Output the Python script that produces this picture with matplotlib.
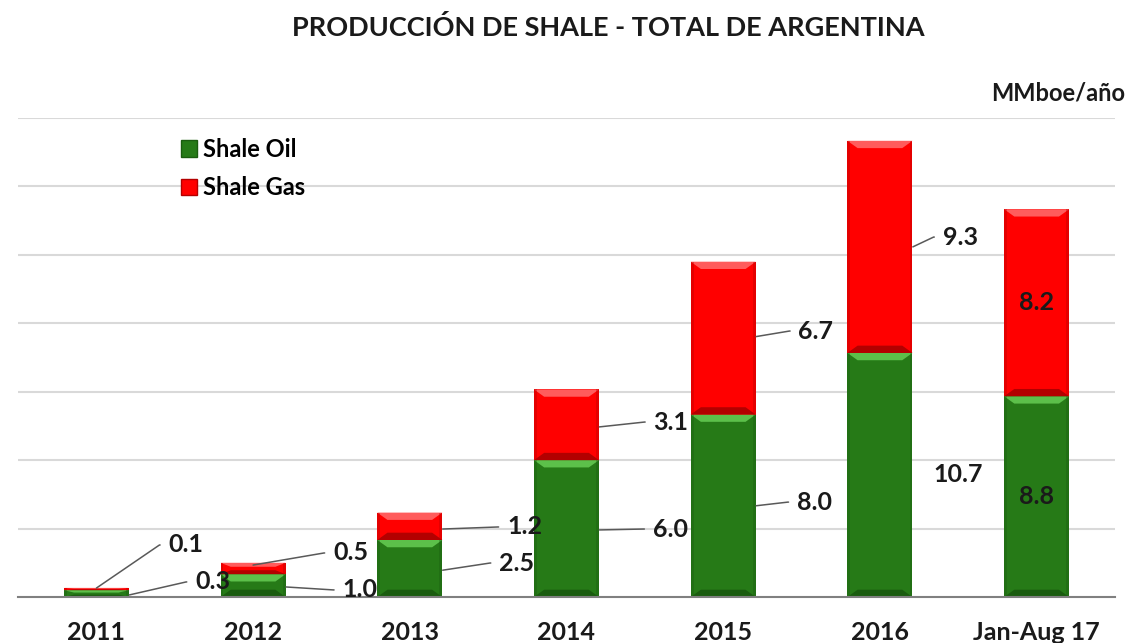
import matplotlib
matplotlib.use("Agg")
import matplotlib.pyplot as plt
from matplotlib.patches import Polygon, Patch

plt.rcParams["font.family"] = ["Lato", "DejaVu Sans"]
plt.rcParams["font.weight"] = "bold"

# --- data -------------------------------------------------------------------
categories = ["2011", "2012", "2013", "2014", "2015", "2016", "Jan-Aug 17"]
shale_oil = [0.3, 1.0, 2.5, 6.0, 8.0, 10.7, 8.8]
shale_gas = [0.1, 0.5, 1.2, 3.1, 6.7, 9.3, 8.2]

# label layout: (anchor dx, anchor fraction of segment, text dx, text y) or None = inside
oil_layout = [(0.21, 0.3, 0.63, 0.66), (0.21, 0.44, 0.57, 0.31), (0.21, 0.47, 0.57, 1.49),
              (0.21, 0.49, 0.55, 2.98), (0.21, 0.5, 0.47, 4.16), ("none", 0, 0.34, 5.35), None]
gas_layout = [(0.0, 0.9, 0.46, 2.28), (0.0, 0.8, 0.51, 1.93), (0.21, 0.4, 0.62, 3.07),
              (0.21, 0.47, 0.555, 7.67), (0.21, 0.51, 0.48, 11.66), (0.21, 0.5, 0.40, 15.78), None]

GREEN, GREEN_LT, GREEN_DK = "#267a17", "#5cc04a", "#1a5c0f"
RED, RED_LT, RED_DK = "#ff0000", "#ff5c5c", "#b30000"
BAR_W = 0.415
LABEL_FS = 18


def bevel(ax, rect, light, dark):
    x0, y0 = rect.get_x(), rect.get_y()
    w, h = rect.get_width(), rect.get_height()
    bh = min(0.32, 0.35 * h)
    d = 0.065
    ax.add_patch(Polygon([(x0, y0 + h), (x0 + w, y0 + h), (x0 + w - d, y0 + h - bh),
                          (x0 + d, y0 + h - bh)], closed=True, color=light, lw=0, zorder=3))
    ax.add_patch(Polygon([(x0, y0), (x0 + w, y0), (x0 + w - d, y0 + bh),
                          (x0 + d, y0 + bh)], closed=True, color=dark, lw=0, zorder=3))
    for xs in ((x0, x0 + 0.018), (x0 + w - 0.018, x0 + w)):
        ax.add_patch(Polygon([(xs[0], y0), (xs[1], y0), (xs[1], y0 + h), (xs[0], y0 + h)],
                             closed=True, color=dark, alpha=0.35, lw=0, zorder=3))


def put_labels(ax, bars, values, layout):
    for i, (rect, val, lay) in enumerate(zip(bars, values, layout)):
        yb, h = rect.get_y(), rect.get_height()
        txt = f"{val:.1f}"
        if lay is None:
            ax.text(i, yb + h / 2, txt, ha="center", va="center", fontsize=LABEL_FS,
                    fontweight="bold", color="#1a1a1a", zorder=5)
            continue
        adx, frac, tdx, ty = lay
        if adx == "none":
            ax.text(i + tdx, ty, txt, ha="left", va="center", fontsize=LABEL_FS,
                    fontweight="bold", color="#1a1a1a", zorder=5)
            continue
        ax.annotate(txt, xy=(i + adx, yb + frac * h), xytext=(i + tdx, ty),
                    ha="left", va="center", fontsize=LABEL_FS, fontweight="bold",
                    color="#1a1a1a", zorder=5,
                    arrowprops=dict(arrowstyle="-", color="#595959", lw=1.1,
                                    relpos=(0, 0.5), shrinkA=4, shrinkB=0,
                                    connectionstyle="arc,angleA=180,armA=9,rad=0"))


fig = plt.figure(figsize=(11.3, 6.43), dpi=100)
ax = fig.add_axes([18 / 1130, 46 / 643, 1097 / 1130, 479 / 643])

x = range(len(categories))
oil_bars = ax.bar(x, shale_oil, width=BAR_W, color=GREEN, zorder=2)
gas_bars = ax.bar(x, shale_gas, width=BAR_W, bottom=shale_oil, color=RED, zorder=2)
for r in oil_bars:
    bevel(ax, r, GREEN_LT, GREEN_DK)
for r in gas_bars:
    bevel(ax, r, RED_LT, RED_DK)

put_labels(ax, oil_bars, shale_oil, oil_layout)
put_labels(ax, gas_bars, shale_gas, gas_layout)

ax.set_xlim(-0.5, len(categories) - 0.5)
ax.set_ylim(0, 21)
ax.set_yticks(range(3, 22, 3))
ax.yaxis.grid(True, color="#d9d9d9", lw=1.5, zorder=0)
ax.tick_params(axis="y", left=False, labelleft=False)
ax.set_xticks(list(x))
ax.set_xticklabels(categories, fontsize=18, fontweight="bold", color="#1a1a1a")
ax.tick_params(axis="x", length=0, pad=17)
for s in ("top", "right", "left"):
    ax.spines[s].set_visible(False)
ax.spines["bottom"].set_color("#808080")
ax.spines["bottom"].set_linewidth(1.5)
ax.spines["bottom"].set_zorder(4)

handles = [Patch(facecolor=GREEN, edgecolor=GREEN_DK), Patch(facecolor=RED, edgecolor=RED_DK)]
ax.legend(handles, ["Shale Oil", "Shale Gas"], loc="upper left", bbox_to_anchor=(0.129, 1.003),
          frameon=False, handlelength=0.7, handleheight=0.7, handletextpad=0.25,
          labelspacing=0.65, prop={"size": 17, "weight": "bold"})

fig.text(608 / 1130, 1 - 27 / 643, "PRODUCCIÓN DE SHALE - TOTAL DE ARGENTINA", ha="center",
         va="center", fontsize=19.5, fontweight="bold", color="#1a1a1a")
fig.text(1125 / 1130, 1 - 93 / 643, "MMboe/año", ha="right", va="center", fontsize=17,
         fontweight="bold", color="#1a1a1a")

fig.savefig("out.png", dpi=100, facecolor="white")
